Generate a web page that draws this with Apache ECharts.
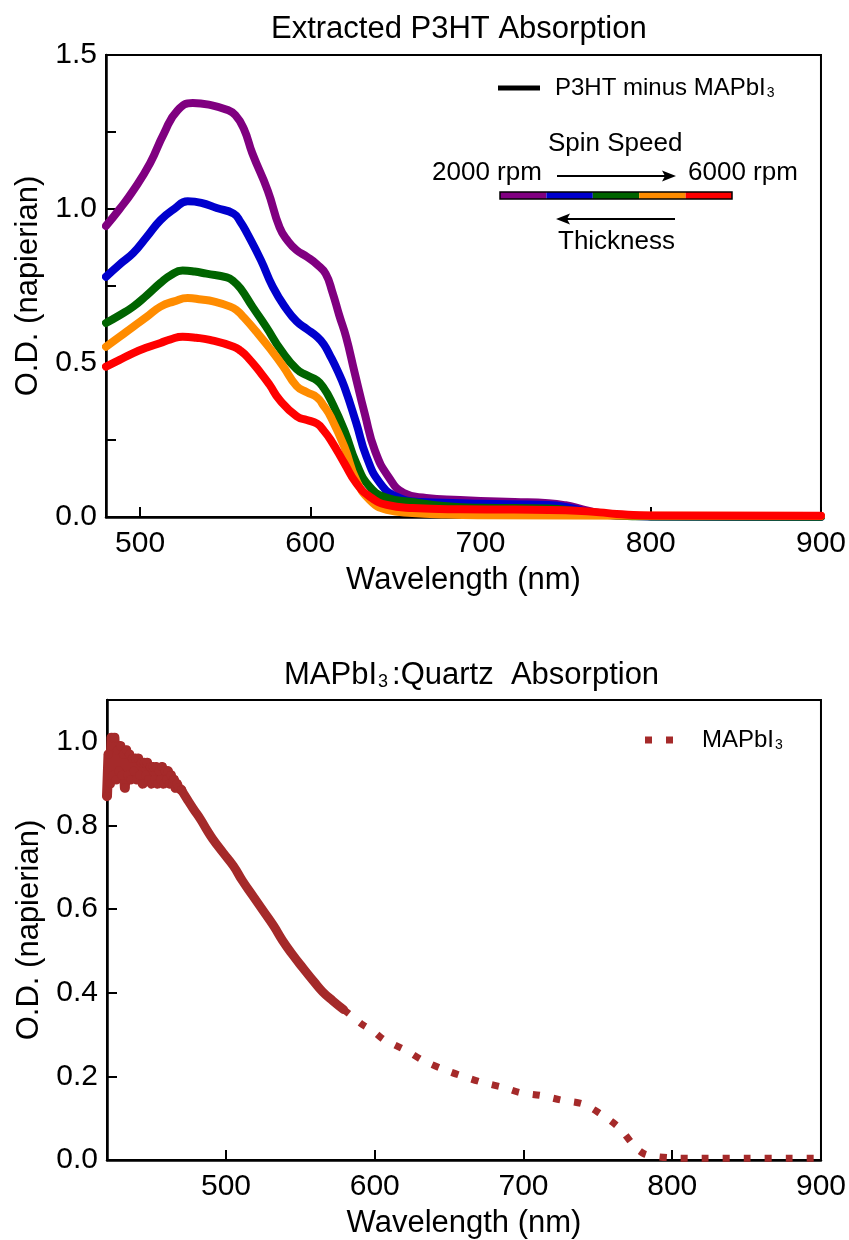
<!DOCTYPE html>
<html>
<head>
<meta charset="utf-8">
<script src="https://cdn.jsdelivr.net/npm/echarts@6/dist/echarts.min.js"></script>
<style>html,body{margin:0;padding:0;background:#fff}#c{width:849px;height:1240px}</style>
</head>
<body>
<div id="c"></div>
<script>
// ---------- Top panel data: Extracted P3HT absorption ----------
const purpleWl = [480,488,496,506,514,522,531,541,551,556,561,566,575,582,587,592,598,604,609,613,617,621,626,632,638,646,655,668,688,700,720,740,750,760,770,780,800,850,900];
const purpleOd = [0.945,1.0,1.06,1.15,1.245,1.32,1.344,1.338,1.322,1.305,1.26,1.18,1.06,0.94,0.895,0.866,0.845,0.82,0.79,0.73,0.655,0.585,0.47,0.335,0.215,0.13,0.078,0.062,0.055,0.052,0.049,0.045,0.038,0.025,0.013,0.006,0.003,0.002,0.002];

const blueWl = [480,488,496,504,512,520,528,536,545,555,559,563,571,578,586,592,598,604,608,612,616,620,627,633,641,651,665,688,700,740,750,760,770,780,800,900];
const blueOd = [0.78,0.82,0.857,0.91,0.964,1.0,1.025,1.02,1.003,0.985,0.958,0.92,0.834,0.747,0.675,0.635,0.61,0.585,0.56,0.52,0.475,0.423,0.305,0.196,0.11,0.065,0.049,0.045,0.043,0.039,0.033,0.02,0.01,0.005,0.002,0.001];

const greenWl = [480,488,496,504,512,518,525,532,539,551,555,559,566,574,583,592,598,604,608,612,620,627,635,645,660,680,700,740,760,780,800,900];
const greenOd = [0.63,0.655,0.683,0.72,0.76,0.785,0.8,0.797,0.79,0.778,0.765,0.742,0.683,0.618,0.54,0.48,0.46,0.443,0.418,0.38,0.282,0.175,0.098,0.062,0.049,0.035,0.03,0.028,0.015,0.005,0.002,0.001];

const orangeWl = [480,488,496,504,512,520,528,536,543,553,557,561,569,577,584,592,598,604,608,612,620,627,635,645,660,680,700,800,900];
const orangeOd = [0.553,0.585,0.618,0.65,0.683,0.7,0.711,0.706,0.7,0.683,0.67,0.648,0.597,0.542,0.49,0.425,0.405,0.388,0.36,0.325,0.228,0.12,0.055,0.023,0.013,0.008,0.006,0.004,0.003];

const redWl = [480,488,496,504,512,518,525,533,541,555,559,563,571,576,582,592,598,604,608,612,620,627,635,645,660,688,720,750,770,780,800,900];
const redOd = [0.488,0.51,0.532,0.55,0.565,0.577,0.585,0.582,0.575,0.553,0.54,0.52,0.467,0.43,0.38,0.327,0.315,0.303,0.28,0.25,0.175,0.11,0.066,0.039,0.029,0.025,0.024,0.022,0.015,0.01,0.005,0.004];

// ---------- Bottom panel data: MAPbI3 on quartz ----------
const mapiNoisyWl = [420,421,422,423,424,425,426,427,428,429,430,431,432,433,434,435,436,437,438,439,440,441,442,443,444,445,446,447,448,449,450,451,452,453,454,455,456,457,458,459,460,461,462,463,464,465,466,467,468,470];
const mapiNoisyOd = [0.87,0.97,0.9,1.01,0.92,1.01,0.91,0.98,0.93,0.99,0.92,0.97,0.89,0.98,0.92,0.97,0.91,0.96,0.93,0.96,0.91,0.96,0.92,0.95,0.9,0.95,0.92,0.95,0.91,0.94,0.9,0.94,0.91,0.94,0.9,0.93,0.91,0.94,0.9,0.93,0.91,0.93,0.9,0.92,0.9,0.91,0.89,0.9,0.89,0.885];
const mapiSmoothWl = [470,474,478,483,487,491,498,505,511,518,525,532,538,545,552,559,565,572,579];
const mapiSmoothOd = [0.885,0.862,0.84,0.814,0.79,0.768,0.735,0.703,0.668,0.632,0.596,0.56,0.525,0.49,0.458,0.427,0.402,0.38,0.36];
const mapiTailWl = [579,586,592,599,606,613,622,633,649,662,673,687,698,712,726,740,752,760,766,775,781,788,800,820,850,880,900];
const mapiTailOd = [0.36,0.34,0.323,0.308,0.288,0.276,0.26,0.237,0.213,0.197,0.185,0.173,0.161,0.154,0.143,0.134,0.11,0.09,0.071,0.031,0.015,0.009,0.005,0.004,0.004,0.004,0.004];

// ---------- Ticks ----------
const topXTicks = [500,600,700,800,900];
const topYTicks = [0,0.25,0.5,0.75,1.0,1.25,1.5];
const topYLabels = [0,0.5,1.0,1.5];
const botXTicks = [500,600,700,800,900];
const botYTicks = [0,0.2,0.4,0.6,0.8,1.0];

const FONT = "'Liberation Sans', Arial, Helvetica, sans-serif";
const pair = (w, v) => w.map((x, i) => [x, v[i]]);
const BROWN = '#a52a2a';

const chart = echarts.init(document.getElementById('c'), null, {renderer: 'canvas'});

function xAxisCfg(gi, min, max, ticks) {
  return {
    type: 'value', gridIndex: gi, min: min, max: max,
    name: 'Wavelength (nm)', nameLocation: 'middle', nameGap: 48,
    nameTextStyle: {fontFamily: FONT, fontSize: 31, color: '#000'},
    axisLine: {show: true, onZero: false, lineStyle: {color: '#000', width: 2.5}},
    axisTick: {show: true, inside: true, length: 10, lineStyle: {color: '#000', width: 2}, customValues: ticks},
    axisLabel: {fontFamily: FONT, fontSize: 30, color: '#000', margin: 12, customValues: ticks},
    splitLine: {show: false}
  };
}
function yAxisCfg(gi, min, max, ticks, labels) {
  return {
    type: 'value', gridIndex: gi, min: min, max: max,
    name: 'O.D. (napierian)', nameLocation: 'middle', nameGap: 62,
    nameTextStyle: {fontFamily: FONT, fontSize: 31, color: '#000'},
    axisLine: {show: true, onZero: false, lineStyle: {color: '#000', width: 2.5}},
    axisTick: {show: true, inside: true, length: 10, lineStyle: {color: '#000', width: 2}, customValues: ticks},
    axisLabel: {fontFamily: FONT, fontSize: 30, color: '#000', margin: 9, customValues: labels,
      formatter: v => Number(v).toFixed(1)},
    splitLine: {show: false}
  };
}
function curve(name, color, w, v) {
  return {
    name: name, type: 'line', xAxisIndex: 0, yAxisIndex: 0,
    data: pair(w, v), smooth: 0.5, showSymbol: false, symbol: 'none',
    lineStyle: {color: color, width: 8, cap: 'round', join: 'round'},
    itemStyle: {color: color}, silent: true
  };
}

const subRich = {
  a: {fontFamily: FONT, fontSize: 24, color: '#000', fontWeight: 'normal'},
  s: {fontFamily: FONT, fontSize: 14, color: '#000', fontWeight: 'normal', verticalAlign: 'bottom', padding: [0, 0, 0, 1]}
};

const option = {
  backgroundColor: '#fff',
  animation: false,
  title: [
    {text: 'Extracted P3HT Absorption', left: 266, top: 9,
     textStyle: {fontFamily: FONT, fontSize: 31, fontWeight: 'normal', color: '#000'}},
    {text: '{a|MAPbI}{s|3}{a|:Quartz  Absorption}', left: 279, top: 655,
     textStyle: {fontWeight: 'normal', rich: {
       a: {fontFamily: FONT, fontSize: 31, color: '#000', fontWeight: 'normal'},
       s: {fontFamily: FONT, fontSize: 18, color: '#000', fontWeight: 'normal', verticalAlign: 'bottom', padding: [0, 4, 0, 1]}
     }}}
  ],
  grid: [
    {left: 106, top: 55, width: 716, height: 462, show: true, borderColor: '#000', borderWidth: 2, containLabel: false},
    {left: 107, top: 700, width: 715, height: 463, show: true, borderColor: '#000', borderWidth: 2, containLabel: false}
  ],
  legend: [
    {data: ['P3HT minus MAPbI3'], left: 498, top: 76, itemWidth: 42, itemHeight: 5, padding: 0,
     icon: 'rect', itemStyle: {color: '#000'},
     formatter: () => '{a|P3HT minus MAPbI}{s|3}',
     textStyle: {rich: subRich, padding: [0, 0, 0, 10]}},
    {data: ['MAPbI3'], left: 645, top: 728, itemWidth: 28, itemHeight: 7, padding: 0,
     icon: 'path://M0,0h7v7h-7z M21,0h7v7h-7z', itemStyle: {color: BROWN},
     formatter: () => '{a|MAPbI}{s|3}',
     textStyle: {rich: subRich, padding: [0, 0, 0, 24]}}
  ],
  xAxis: [xAxisCfg(0, 480, 900, topXTicks), xAxisCfg(1, 420, 900, botXTicks)],
  yAxis: [yAxisCfg(0, 0, 1.5, topYTicks, topYLabels), yAxisCfg(1, 0, 1.1, botYTicks, botYTicks)],
  series: [
    curve('2000 rpm', '#800080', purpleWl, purpleOd),
    curve('3000 rpm', '#0000cd', blueWl, blueOd),
    curve('4000 rpm', '#006400', greenWl, greenOd),
    curve('5000 rpm', '#ff8c00', orangeWl, orangeOd),
    curve('6000 rpm', '#ff0000', redWl, redOd),
    {name: 'P3HT minus MAPbI3', type: 'line', xAxisIndex: 0, yAxisIndex: 0, data: [],
     symbol: 'none', lineStyle: {color: '#000', width: 5}, itemStyle: {color: '#000'}},
    {name: 'MAPbI3 noisy', type: 'line', xAxisIndex: 1, yAxisIndex: 1, data: pair(mapiNoisyWl, mapiNoisyOd),
     showSymbol: true, symbol: 'circle', symbolSize: 9, smooth: false,
     lineStyle: {color: BROWN, width: 10, cap: 'round', join: 'round'}, itemStyle: {color: BROWN}},
    {name: 'MAPbI3 band', type: 'line', xAxisIndex: 1, yAxisIndex: 1, data: pair(mapiSmoothWl, mapiSmoothOd),
     showSymbol: false, symbol: 'none', smooth: 0.5,
     lineStyle: {color: BROWN, width: 9, cap: 'round', join: 'round'}, itemStyle: {color: BROWN}},
    {name: 'MAPbI3', type: 'line', xAxisIndex: 1, yAxisIndex: 1, data: pair(mapiTailWl, mapiTailOd),
     showSymbol: false, symbol: 'none', smooth: 0.3,
     lineStyle: {color: BROWN, width: 7, type: [7, 14], cap: 'butt'}, itemStyle: {color: BROWN}}
  ],
  graphic: [
    {type: 'text', left: 548, top: 131, style: {text: 'Spin Speed', font: "26px " + FONT, fill: '#000'}},
    {type: 'text', left: 432, top: 160, style: {text: '2000 rpm', font: "26px " + FONT, fill: '#000'}},
    {type: 'text', left: 688, top: 160, style: {text: '6000 rpm', font: "26px " + FONT, fill: '#000'}},
    {type: 'text', left: 558, top: 229, style: {text: 'Thickness', font: "26px " + FONT, fill: '#000'}},
    {type: 'line', shape: {x1: 557, y1: 176, x2: 666, y2: 176}, style: {stroke: '#000', lineWidth: 1.8}},
    {type: 'polygon', shape: {points: [[676, 176], [662, 170.5], [665, 176], [662, 181.5]]}, style: {fill: '#000'}},
    {type: 'line', shape: {x1: 566, y1: 219, x2: 675, y2: 219}, style: {stroke: '#000', lineWidth: 1.8}},
    {type: 'polygon', shape: {points: [[556, 219], [570, 213.5], [567, 219], [570, 224.5]]}, style: {fill: '#000'}},
    {type: 'rect', shape: {x: 500, y: 192, width: 46.4, height: 7}, style: {fill: '#800080'}},
    {type: 'rect', shape: {x: 546.4, y: 192, width: 46.4, height: 7}, style: {fill: '#0000cd'}},
    {type: 'rect', shape: {x: 592.8, y: 192, width: 46.4, height: 7}, style: {fill: '#006400'}},
    {type: 'rect', shape: {x: 639.2, y: 192, width: 46.4, height: 7}, style: {fill: '#ff8c00'}},
    {type: 'rect', shape: {x: 685.6, y: 192, width: 46.4, height: 7}, style: {fill: '#ff0000'}},
    {type: 'rect', shape: {x: 500, y: 192, width: 232, height: 7}, style: {fill: 'none', stroke: '#000', lineWidth: 1.5}}
  ]
};
chart.setOption(option);
</script>
</body>
</html>
